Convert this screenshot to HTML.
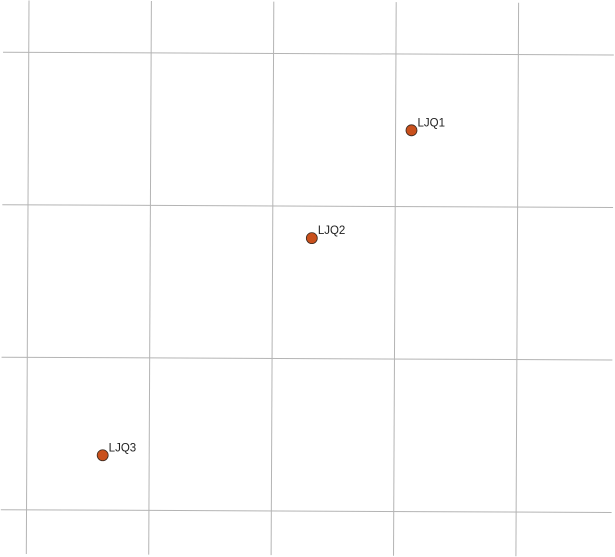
<!DOCTYPE html>
<html><head><meta charset="utf-8"><style>
html,body{margin:0;padding:0;background:#fff;width:615px;height:557px;overflow:hidden;}
svg{display:block;overflow:hidden;}
text{font-family:"Liberation Sans",sans-serif;font-size:11.5px;fill:#222;}
</style></head><body>
<svg id="map" width="615" height="557" viewBox="0 0 615 557"></svg>
<script>
const lonTicks = [100, 101, 102, 103, 104];
const latTicks = [40, 39, 38, 37];
const stationNames = ["LJQ1", "LJQ2", "LJQ3"];
const stationLon = [103.13, 102.32, 100.62];
const stationLat = [39.50, 38.79, 37.36];

const svg = document.getElementById('map');
const NS = 'http://www.w3.org/2000/svg';
function proj(lon, lat) {
  const X = 29 + 122.4 * (lon - 100);
  const Y = 52.2 + 152.5 * (40 - lat);
  return [X - 0.00485 * Y, Y + 0.00455 * X];
}
function line(p1, p2, name) {
  const l = document.createElementNS(NS, 'line');
  l.setAttribute('x1', p1[0]); l.setAttribute('y1', p1[1]);
  l.setAttribute('x2', p2[0]); l.setAttribute('y2', p2[1]);
  l.setAttribute('stroke', '#b4b4b4'); l.setAttribute('stroke-width', '1');
  
  
  svg.appendChild(l);
}
lonTicks.forEach(lon => {
  line(proj(lon, 40.34), proj(lon, 36.71), 'meridian-line');
});
latTicks.forEach(lat => {
  line(proj(99.79, lat), proj(104.78, lat), 'parallel-line');
});
stationNames.forEach((n, i) => {
  const p = proj(stationLon[i], stationLat[i]);
  const c = document.createElementNS(NS, 'circle');
  c.setAttribute('cx', p[0]); c.setAttribute('cy', p[1]); c.setAttribute('r', 5.5);
  c.setAttribute('fill', '#c9501c'); c.setAttribute('stroke', '#3a2a20'); c.setAttribute('stroke-width', '0.8');
  
  
  svg.appendChild(c);
  const t = document.createElementNS(NS, 'text');
  t.setAttribute('x', p[0] + 6); t.setAttribute('y', p[1] - 4);
  t.textContent = n;
  
  
  svg.appendChild(t);
});
</script>
</body></html>
